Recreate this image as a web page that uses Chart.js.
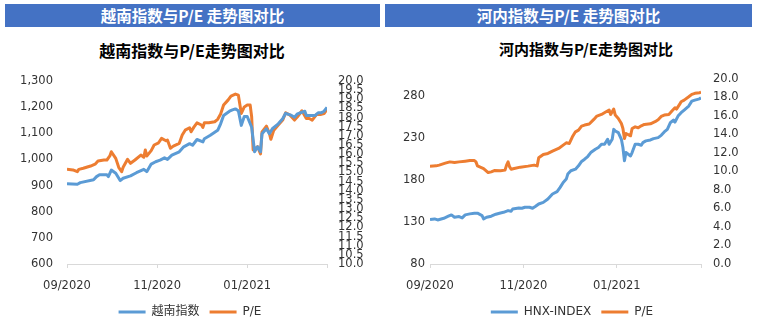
<!DOCTYPE html>
<html><head><meta charset="utf-8">
<script src="https://cdn.jsdelivr.net/npm/chart.js@4/dist/chart.umd.min.js"></script>
<style>
html,body{margin:0;padding:0;background:#fff;width:761px;height:326px;overflow:hidden;}
.hdr{position:absolute;top:4px;height:23px;background:#4472C4;color:#fff;font-family:"Noto Sans CJK SC",sans-serif;font-weight:bold;font-size:15.5px;line-height:23px;text-align:center;}
.ttl{position:absolute;font-family:"Noto Sans CJK SC",sans-serif;font-weight:bold;color:#000;white-space:nowrap;transform:translateX(-50%);line-height:20px;}
canvas{position:absolute;}
</style></head><body>
<div class="hdr" style="left:5px;width:375px">越南指数与P/E 走势图对比</div>
<div class="hdr" style="left:385px;width:367px">河内指数与P/E 走势图对比</div>
<div class="ttl" style="left:192px;top:40px;font-size:16px">越南指数与P/E走势图对比</div>
<div class="ttl" style="left:586px;top:39px;font-size:15px">河内指数与P/E走势图对比</div>
<canvas id="c1" width="380" height="268" style="left:0;top:60px"></canvas>
<canvas id="c2" width="378" height="268" style="left:383px;top:60px"></canvas>
<script>
// ---------- shared x axis (days since 09/2020) ----------
const xTickDays = [0, 61, 122];
const xTickLabels = ["09/2020", "11/2020", "01/2021"];
const vnXEnd = 176;
const hnxXEnd = 177;

// ---------- 越南指数 (VN-Index) ----------
const vnIdxDays = [0,7,9,18,20,22,27,28,30,33,36,38,43,47,52,54,57,60,63,66,68,71,76,79,83,85,88,92,93,97,102,104,106,110,112,114,116,118,120,122,125,127,129,131,132,135,137,139,143,146,148,152,154,156,159,161,162,165,168,170,172,174,176];
const vnIdx = [907,905,911,922,934,941,941,934,959,947,919,928,937,949,962,953,982,991,997,1006,1000,1016,1029,1048,1060,1054,1076,1067,1079,1092,1111,1136,1168,1184,1189,1193,1186,1130,1164,1164,1123,1029,1048,1029,1098,1117,1098,1117,1136,1155,1176,1168,1161,1174,1180,1184,1168,1168,1168,1178,1178,1184,1199];
const vnPeDays = [0,4,7,8,11,16,19,21,25,27,29,30,33,35,37,38,41,43,46,50,52,53,54,57,59,62,64,67,68,70,72,76,78,80,83,84,86,88,91,92,93,96,100,102,104,106,109,111,114,116,118,120,122,124,125,126,129,131,132,135,137,138,140,143,146,148,151,154,156,159,162,164,166,169,172,174,176];
const vnPe = [15.17,15.14,15.04,15.17,15.23,15.35,15.45,15.63,15.68,15.68,15.90,16.13,15.77,15.28,15.04,15.28,15.72,15.50,15.68,15.95,15.83,16.23,15.90,16.19,16.50,16.62,16.86,16.73,16.77,16.32,16.44,16.59,17.04,17.31,17.44,17.22,17.49,17.71,17.59,17.46,17.71,17.71,17.77,17.90,18.19,18.68,18.95,19.17,19.28,19.22,18.22,18.58,18.68,18.68,18.04,16.23,16.41,16.01,17.22,17.53,17.13,16.81,17.31,17.59,17.86,18.26,18.13,17.86,18.04,18.37,17.95,17.95,17.86,18.17,18.17,18.22,18.44];
const vnIdxTicks = [600,700,800,900,1000,1100,1200,1300];
const vnPeTicks = [10,10.5,11,11.5,12,12.5,13,13.5,14,14.5,15,15.5,16,16.5,17,17.5,18,18.5,19,19.5,20];

// ---------- HNX-INDEX ----------
const hnxIdxDays = [0,3,5,9,12,14,16,19,21,23,26,29,31,34,35,37,40,43,46,48,51,53,54,58,60,62,65,67,69,71,74,77,80,83,85,87,89,90,92,95,97,99,101,103,105,108,110,112,114,116,117,119,120,121,123,125,126,127,128,131,132,134,136,138,139,141,144,146,149,151,153,155,157,159,160,162,164,166,169,171,173,176,177];
const hnxIdx = [132.9,133.6,132.4,134.4,136.8,138.4,135.6,136.4,134.8,138.4,139.6,140.4,140.4,137.6,133.6,135.6,136.8,139.2,140.7,141.5,143.5,142.7,145.4,146.6,146.3,147.5,147.5,146.3,148.6,151.4,153.3,157.3,163.2,166.0,171.1,177.0,181.0,186.9,190.9,192.8,196.8,201.9,204.6,207.8,212.5,216.4,218.5,222.4,222.4,228.3,222.4,228.3,240.1,238.2,236.2,228.3,218.5,202.8,212.5,208.5,212.5,222.4,222.4,221.2,224.3,226.4,227.5,229.1,230.3,233.0,237.0,240.1,248.0,251.2,248.8,255.9,259.9,263.1,267.8,273.7,274.9,276.4,277.6];
const hnxPeDays = [0,4,6,10,13,16,19,23,26,29,30,31,35,38,40,42,46,49,50,51,52,53,55,59,64,68,70,71,74,77,80,84,87,89,91,93,95,97,99,101,104,107,109,112,115,117,118,120,121,123,125,126,127,128,131,132,134,136,138,140,144,147,149,151,153,156,158,160,161,163,164,166,169,171,173,176,177];
const hnxPe = [10.58,10.61,10.69,10.90,11.04,10.97,11.04,11.12,11.19,11.19,11.04,10.61,10.32,9.89,9.96,10.10,10.07,10.15,10.69,11.04,10.50,10.25,10.32,10.47,10.58,10.69,10.61,11.48,11.84,11.95,12.20,12.49,12.85,13.10,13.03,13.75,14.29,14.47,14.91,15.02,15.13,15.63,15.99,16.17,16.46,16.64,16.17,16.75,16.10,15.74,15.19,14.65,13.57,14.11,13.86,14.65,14.83,14.73,14.94,15.09,15.16,15.38,15.59,15.95,16.10,16.17,16.53,16.89,16.75,17.25,17.54,17.72,18.08,18.34,18.45,18.52,18.56];
const hnxIdxTicks = [80,130,180,230,280];
const hnxPeTicks = [0,2,4,6,8,10,12,14,16,18,20];

const BLUE = '#5B9BD5', ORANGE = '#ED7D31';
Chart.defaults.font.family = "'DejaVu Sans','Noto Sans CJK SC',sans-serif";
Chart.defaults.color = '#333333';

function pts(days, vals){ return days.map((d,i)=>({x:d, y:vals[i]})); }

function build(id, o){
  const tickFont = {size:11.5};
  new Chart(document.getElementById(id), {
    type:'line',
    data:{ datasets:[
      {label:o.name1, data:pts(o.d1,o.v1), yAxisID:'y', borderColor:BLUE, backgroundColor:BLUE, borderWidth:3, pointRadius:0, tension:0, borderJoinStyle:'round'},
      {label:'P/E', data:pts(o.d2,o.v2), yAxisID:'y1', borderColor:ORANGE, backgroundColor:ORANGE, borderWidth:3, pointRadius:0, tension:0, borderJoinStyle:'round'}
    ]},
    options:{
      responsive:false, animation:false,
      layout:{padding:{top:o.padTop,left:0,right:0,bottom:0}},
      plugins:{
        legend:{position:'bottom', labels:{usePointStyle:true, pointStyle:'line', pointStyleWidth:27, boxHeight:3, padding:10, font:{size:12}, color:'#333333'}},
        tooltip:{enabled:false}, title:{display:false}
      },
      scales:{
        x:{type:'linear', min:0, max:o.xEnd,
          afterBuildTicks:s=>{ s.ticks = xTickDays.concat([o.xEnd]).map(v=>({value:v})); },
          ticks:{autoSkip:false, maxRotation:0, padding:11, font:tickFont, callback:(v,i)=> (i < xTickLabels.length ? xTickLabels[i] : '')},
          grid:{display:true, drawOnChartArea:false, drawTicks:true, tickLength:4, color:'#d9d9d9'},
          border:{display:true, color:'#d9d9d9'},
          afterFit:s=>{ s.height = 32; }
        },
        y:{position:'left', min:o.yMin, max:o.yMax,
          afterBuildTicks:s=>{ s.ticks = o.t1.map(v=>({value:v})); },
          ticks:{autoSkip:false, padding:o.pad1, font:tickFont, callback:v=>v.toLocaleString('en-US')},
          grid:{display:false, drawTicks:false}, border:{display:false},
          afterFit:s=>{ s.width = o.w1; }
        },
        y1:{position:'right', min:o.y1Min, max:o.y1Max,
          afterBuildTicks:s=>{ s.ticks = o.t2.map(v=>({value:v})); },
          ticks:{autoSkip:false, padding:o.pad2, font:tickFont, callback:v=>Number(v).toFixed(1)},
          grid:{display:false, drawTicks:false}, border:{display:false},
          afterFit:s=>{ s.width = o.w2; }
        }
      }
    }
  });
}

build('c1', {name1:'越南指数', d1:vnIdxDays, v1:vnIdx, d2:vnPeDays, v2:vnPe, xEnd:vnXEnd,
  yMin:600, yMax:1300, t1:vnIdxTicks, y1Min:10, y1Max:20, t2:vnPeTicks,
  w1:67, w2:53, pad1:14, pad2:11, padTop:20});
build('c2', {name1:'HNX-INDEX', d1:hnxIdxDays, v1:hnxIdx, d2:hnxPeDays, v2:hnxPe, xEnd:hnxXEnd,
  yMin:80, yMax:300, t1:hnxIdxTicks, y1Min:0, y1Max:20, t2:hnxPeTicks,
  w1:47, w2:60, pad1:5, pad2:12, padTop:19});
</script>
</body></html>
